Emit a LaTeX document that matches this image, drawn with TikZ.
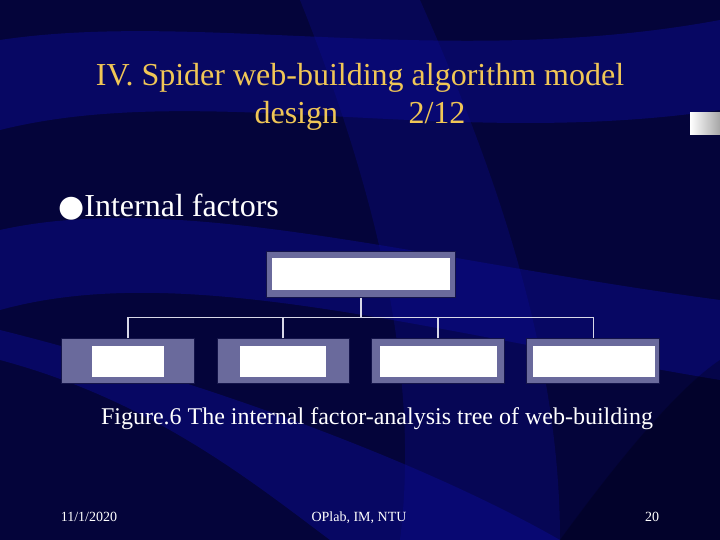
\documentclass[tikz,border=0pt]{standalone}
\usepackage{fontspec}
\setmainfont{Liberation Serif}
\usepackage{tikz}
\usetikzlibrary{positioning}
\definecolor{bgd}{HTML}{04043A}
\definecolor{bgl}{HTML}{0C0C96}
\definecolor{gold}{HTML}{F0C656}
\definecolor{boxp}{HTML}{6A6A9C}
\definecolor{boxe}{HTML}{14144A}
\definecolor{wire}{HTML}{D8D8E8}
\tikzset{
  outerbox/.style={fill=boxp, draw=boxe, line width=0.8pt, inner sep=0pt},
  innerbox/.style={fill=white, draw=none, inner sep=0pt},
  link/.style={draw=wire, line width=1.4pt},
  band/.style={fill=bgl, fill opacity=0.45, draw=none},
  foot/.style={text=white, font=\fontsize{14}{16}\selectfont, anchor=base}
}

\begin{document}
\begin{tikzpicture}[x=1pt, y=-1pt]
  % background
  \fill[bgd] (0,0) rectangle (720,540);
  \useasboundingbox (0,0) rectangle (720,540);
  \fill[band] (0,40) .. controls (200,10) and (450,70) .. (720,20) -- (720,110) .. controls (450,150) and (200,80) .. (0,130) -- cycle;
  \fill[band] (0,230) .. controls (180,190) and (420,260) .. (720,300) -- (720,380) .. controls (420,330) and (180,260) .. (0,310) -- cycle;
  \fill[band] (0,360) .. controls (150,400) and (250,480) .. (330,540) -- (560,540) .. controls (420,460) and (200,380) .. (0,330) -- cycle;
  \fill[band, fill opacity=0.3] (300,0) .. controls (380,200) and (420,380) .. (400,540) -- (560,540) .. controls (560,360) and (500,180) .. (420,0) -- cycle;
  \fill[black, fill opacity=0.25] (560,540) .. controls (640,430) and (690,380) .. (720,360) -- (720,540) -- cycle;

  % side tab
  \shade[left color=white, right color=gray!70] (690,113) rectangle (720,135);

  % title
  \node[text=gold, font=\fontsize{32}{38}\selectfont, align=center] (title) at (360,97)
    {IV. Spider web-building algorithm model\\design\hspace{2.2em}2/12};

  % bullet
  \node[text=white, font=\fontsize{32}{36}\selectfont, anchor=west, inner sep=0pt] (bullet) at (58,207)
    {{\fontspec{DejaVu Sans}\fontsize{30}{36}\selectfont ●}Internal factors};

  % tree
  \node[outerbox, minimum width=189, minimum height=46] (root) at (360.8,274.3) {};
  \node[innerbox, minimum width=178, minimum height=32] (rootin) at (root.center) {};

  \node[outerbox, minimum width=133, minimum height=45] (c1) at (128,361.3) {};
  \node[outerbox, minimum width=132, minimum height=45] (c2) at (283,361.3) {};
  \node[outerbox, minimum width=133, minimum height=45] (c3) at (438,361.3) {};
  \node[outerbox, minimum width=133, minimum height=45] (c4) at (593.3,361.3) {};
  \node[innerbox, minimum width=72, minimum height=31] (c1in) at (c1.center) {};
  \node[innerbox, minimum width=86, minimum height=31] (c2in) at (c2.center) {};
  \node[innerbox, minimum width=117, minimum height=31] (c3in) at (c3.center) {};
  \node[innerbox, minimum width=122, minimum height=31] (c4in) at (594,361.3) {};

  \coordinate (bus) at (360,317.3);
  \draw[link] (root.south) -- (root.south |- bus);
  \draw[link] (c1.north) -- (c1.north |- bus) -- (c4.north |- bus) -- (c4.north);
  \draw[link] (c2.north) -- (c2.north |- bus);
  \draw[link] (c3.north) -- (c3.north |- bus);

  % caption
  \node[text=white, font=\fontsize{24}{28}\selectfont] (caption) at (377,419)
    {Figure.6 The internal factor-analysis tree of web-building};

  % footer
  \node[foot] (date) at (89,521) {11/1/2020};
  \node[foot] (lab) at (359,521) {OPlab, IM, NTU};
  \node[foot] (page) at (652,521) {20};
\end{tikzpicture}
\end{document}
